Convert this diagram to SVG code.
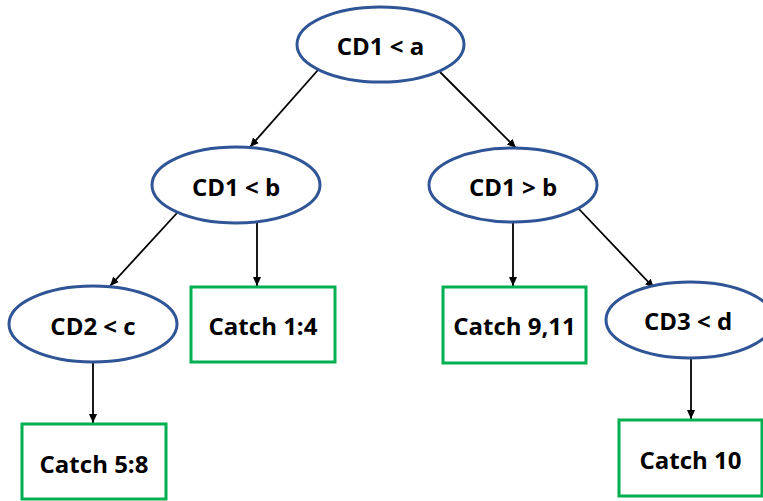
<svg xmlns="http://www.w3.org/2000/svg" width="763" height="501" viewBox="0 0 763 501">
<style>
.ell{fill:#fff;stroke:#2F5597;stroke-width:3}
.box{fill:#fff;stroke:#00B050;stroke-width:3}
.t{font-family:"Open Sans","Liberation Sans",sans-serif;font-weight:bold;font-size:24px;fill:#000;text-anchor:middle;dominant-baseline:central}
.c{stroke:#000;stroke-width:1.8;fill:none;marker-end:url(#ah)}
</style>
<defs>
<marker id="ah" markerWidth="10" markerHeight="10" refX="9" refY="5" orient="auto" markerUnits="userSpaceOnUse">
<path d="M0,1 L9,5 L0,9 Z" fill="#000"/>
</marker>
</defs>
<g id="connectors">
<line class="c" x1="318" y1="70" x2="250" y2="147"/>
<line class="c" x1="440" y1="72" x2="516" y2="148"/>
<line class="c" x1="177" y1="213" x2="110" y2="286"/>
<line class="c" x1="257" y1="223" x2="257" y2="286"/>
<line class="c" x1="513" y1="222" x2="513" y2="286"/>
<line class="c" x1="578" y1="208" x2="654" y2="288"/>
<line class="c" x1="93" y1="362" x2="93" y2="423"/>
<line class="c" x1="691" y1="357" x2="691" y2="419"/>
</g>
<g id="n1"><ellipse class="ell" cx="380.5" cy="44.5" rx="83.5" ry="37.5"/><text class="t" x="380.5" y="45">CD1 &lt; a</text></g>
<g id="n2"><ellipse class="ell" cx="236" cy="185" rx="84" ry="38"/><text class="t" x="236" y="186">CD1 &lt; b</text></g>
<g id="n3"><ellipse class="ell" cx="513" cy="185" rx="84" ry="37"/><text class="t" x="513" y="186">CD1 &gt; b</text></g>
<g id="n4"><ellipse class="ell" cx="93" cy="324" rx="84" ry="38"/><text class="t" x="93" y="325">CD2 &lt; c</text></g>
<g id="n5"><rect class="box" x="191" y="287" width="144" height="75"/><text class="t" x="263" y="325">Catch 1:4</text></g>
<g id="n6"><rect class="box" x="443" y="287" width="143" height="76"/><text class="t" x="514.5" y="325">Catch 9,11</text></g>
<g id="n7"><ellipse class="ell" cx="690" cy="320" rx="84" ry="38"/><text class="t" x="688" y="320">CD3 &lt; d</text></g>
<g id="n8"><rect class="box" x="22" y="424" width="144" height="75"/><text class="t" x="94" y="463">Catch 5:8</text></g>
<g id="n9"><rect class="box" x="619" y="420" width="143" height="76"/><text class="t" x="690.5" y="459">Catch 10</text></g>
</svg>
